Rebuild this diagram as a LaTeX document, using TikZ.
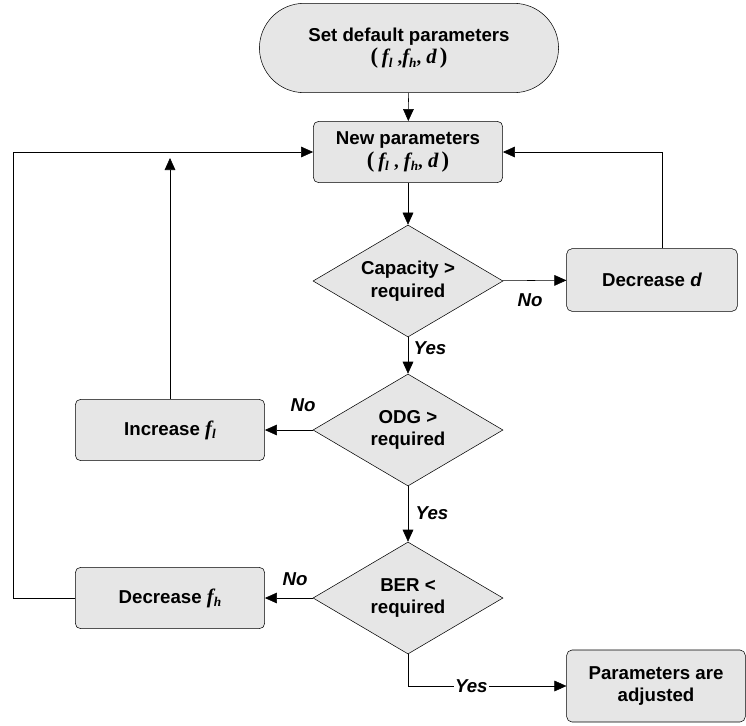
\documentclass[tikz,border=0pt]{standalone}
\usepackage{fontspec}
\setmainfont{Liberation Sans}
\newfontfamily\tms{Liberation Serif}
\usetikzlibrary{arrows.meta,shapes.geometric,shapes.misc,positioning}
\definecolor{boxgray}{RGB}{230,230,230}
\newcommand{\pv}[2]{{\tms\bfseries\itshape\fontsize{15.5}{15.5}\selectfont #1}\raisebox{-0.35ex}{\fontsize{10}{10}\selectfont\tms\bfseries\itshape #2}}
\newcommand{\prm}[1]{{\tms\bfseries\fontsize{17}{17}\selectfont(\,}\pv{f}{l}\ {\tms\bfseries,}#1\pv{f}{h}{\tms\bfseries,} {\tms\bfseries\itshape\fontsize{15.5}{15.5}\selectfont d}\,{\tms\bfseries\fontsize{17}{17}\selectfont)}}
\begin{document}
\begin{tikzpicture}[x=0.75pt,y=-0.75pt,
  txt/.style={font=\fontsize{14}{17}\selectfont\bfseries},
  box/.style={txt,draw,rounded corners=4pt,fill=boxgray,minimum width=142pt,minimum height=46pt,align=center},
  dec/.style={txt,draw,diamond,fill=boxgray,aspect=1.7,inner sep=0pt,minimum width=142.5pt,minimum height=84pt,align=center},
  lbl/.style={font=\fontsize{14}{16}\selectfont\bfseries\itshape},
  arr/.style={-{Triangle[length=9pt,width=8pt]}}]
\useasboundingbox (0,0) rectangle (746,725);
\node [txt,draw,rounded rectangle,fill=boxgray,minimum width=231pt,minimum height=67pt,align=center] (start) at (409,48) {Set default parameters\\\prm{}};
\node [box] (newp) at (408,152) {New parameters\\\prm{\ }};
\node [dec] (cap) at (408,281) {Capacity >\\required};
\node [box,minimum width=128pt,minimum height=47pt] (decd) at (652,280) {Decrease \textit{d}};
\node [dec] (odg) at (408,430) {ODG >\\required};
\node [box] (incl) at (170,430) {Increase \pv{f}{l}};
\node [dec] (ber) at (408,598) {BER <\\required};
\node [box] (dech) at (170,598) {Decrease \pv{f}{h}};
\node [box,minimum width=134pt,minimum height=54pt] (adj) at (656,686) {Parameters are\\adjusted};
\coordinate (upend) at (170,158);
\coordinate (lft) at (13,152);
\draw [arr] (start) -- (newp);
\draw [arr] (newp) -- (cap);
\draw [arr] (cap) -- (decd);
\node [lbl] (no1) at (530,300) {No};
\draw [arr] ([xshift=7.5pt]decd.north) |- (newp.east);
\draw [arr] (cap) -- (odg);
\node [lbl] (yes1) at (430,348) {Yes};
\draw [arr] (odg) -- (incl);
\node [lbl] (no2) at (303,405) {No};
\draw [arr] (incl) -- (upend);
\draw [arr] (odg) -- (ber);
\node [lbl] (yes2) at (432,513) {Yes};
\draw [arr] (ber) -- (dech);
\node [lbl] (no3) at (295,579) {No};
\draw [arr] (dech.west) -| (lft) -- (newp.west);
\draw [arr] (ber.south) |- node [lbl,fill=white,inner sep=1pt,pos=.7] (yes3) {Yes} (adj.west);
\end{tikzpicture}
\end{document}
